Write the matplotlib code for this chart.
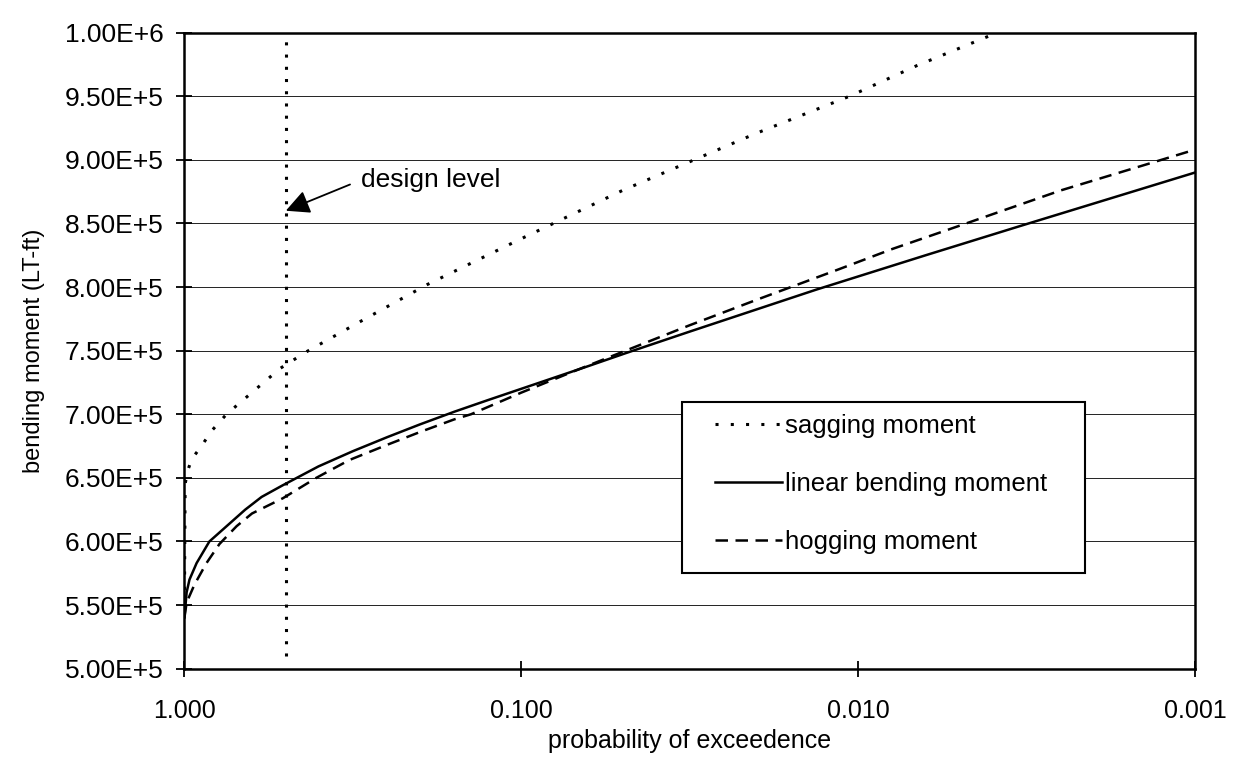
import numpy as np
import matplotlib.pyplot as plt
from matplotlib.patches import Rectangle

plt.rcParams['font.family'] = ['Liberation Sans', 'DejaVu Sans']

# probability of exceedence (x) and bending moment (y)
sag_p = [1.0, 0.995, 0.98, 0.95, 0.89, 0.83, 0.75, 0.52, 0.435, 0.30, 0.19, 0.10,
         0.05, 0.02, 0.0106, 0.0067, 0.0037, 0.003]
sag_m = [5.50e5, 6.45e5, 6.55e5, 6.65e5, 6.75e5, 6.87e5, 7.00e5, 7.36e5, 7.49e5, 7.73e5,
         8.02e5, 8.38e5, 8.76e5, 9.21e5, 9.50e5, 9.74e5, 1.002e6, 1.012e6]

lin_p = [1.0, 0.985, 0.966, 0.92, 0.843, 0.735, 0.66, 0.59, 0.512, 0.40, 0.316,
         0.25, 0.20, 0.158, 0.126, 0.10, 0.063, 0.049, 0.0316, 0.0133, 0.0063,
         0.0033, 0.001]
lin_m = [5.40e5, 5.60e5, 5.70e5, 5.83e5, 6.00e5, 6.14e5, 6.25e5, 6.35e5, 6.44e5, 6.59e5,
         6.71e5, 6.82e5, 6.92e5, 7.02e5, 7.11e5, 7.20e5, 7.38e5, 7.48e5, 7.65e5, 7.98e5,
         8.25e5, 8.48e5, 8.90e5]

hog_p = [1.0, 0.985, 0.934, 0.86, 0.787, 0.70, 0.63, 0.51, 0.406, 0.324, 0.25, 0.20,
         0.158, 0.141, 0.10, 0.071, 0.049, 0.0316, 0.02, 0.0114, 0.0079, 0.0049,
         0.0025, 0.001]
hog_m = [5.40e5, 5.52e5, 5.66e5, 5.83e5, 5.98e5, 6.12e5, 6.22e5, 6.34e5, 6.50e5, 6.64e5,
         6.76e5, 6.86e5, 6.96e5, 7.00e5, 7.17e5, 7.33e5, 7.50e5, 7.70e5, 7.90e5, 8.14e5,
         8.30e5, 8.49e5, 8.76e5, 9.08e5]

design_p = 0.5
design_span = [5.1e5, 1.0e6]

x_ticks = [1.0, 0.1, 0.01, 0.001]
x_labels = ['1.000', '0.100', '0.010', '0.001']
y_ticks = [5.0e5, 5.5e5, 6.0e5, 6.5e5, 7.0e5, 7.5e5, 8.0e5, 8.5e5, 9.0e5, 9.5e5, 1.0e6]
y_labels = ['5.00E+5', '5.50E+5', '6.00E+5', '6.50E+5', '7.00E+5', '7.50E+5',
            '8.00E+5', '8.50E+5', '9.00E+5', '9.50E+5', '1.00E+6']

fig = plt.figure(figsize=(12.46, 7.59), dpi=100)
ax = fig.add_axes([0.148, 0.119, 0.811, 0.838])

ax.set_xscale('log')
ax.set_xlim(1.0, 0.001)
ax.set_ylim(5.0e5, 1.0e6)

for y in y_ticks[1:-1]:
    ax.axhline(y, color='#222222', lw=0.7, zorder=1)

ax.plot(sag_p, sag_m, color='black', lw=2.2, ls=(0, (1, 4)), label='sagging moment', zorder=3)
ax.plot(lin_p, lin_m, color='black', lw=1.8, ls='-', label='linear bending moment', zorder=3)
ax.plot(hog_p, hog_m, color='black', lw=1.8, ls=(0, (5, 3)), label='hogging moment', zorder=3)

# design level line
ax.plot([design_p, design_p], design_span, color='black', lw=2.2, ls=(0, (1, 3)), zorder=3)
ax.annotate('design level', xy=(design_p, 8.6e5), xytext=(0.30, 8.84e5),
            fontsize=19, ha='left', va='center',
            arrowprops=dict(arrowstyle='-|>', mutation_scale=36, color='black', lw=1.3,
                            shrinkA=6, shrinkB=0, relpos=(0, 0.5)))

ax.set_xticks(x_ticks)
ax.set_xticklabels(x_labels)
ax.xaxis.set_minor_locator(plt.NullLocator())
ax.set_yticks(y_ticks)
ax.set_yticklabels(y_labels)
ax.tick_params(axis='both', direction='inout', length=12, width=1.3)
ax.tick_params(axis='x', pad=16, labelsize=18)
ax.tick_params(axis='y', pad=9, labelsize=19)

for s in ax.spines.values():
    s.set_linewidth(1.8)
    s.set_color('black')

ax.set_xlabel('probability of exceedence', fontsize=18, labelpad=4)
ax.set_ylabel('bending moment (LT-ft)', fontsize=17, labelpad=14)

# legend box drawn separately so the padding matches the scan
ax.add_patch(Rectangle((0.492, 0.151), 0.399, 0.269, transform=ax.transAxes,
                       facecolor='white', edgecolor='black', lw=1.5, zorder=4))
leg = ax.legend(loc='upper left', bbox_to_anchor=(0.525, 0.400), fontsize=18.5,
                handlelength=2.6, handletextpad=0.12, labelspacing=1.32,
                borderpad=0, frameon=False, borderaxespad=0)
leg.set_zorder(5)

fig.savefig('out.png', dpi=100)
